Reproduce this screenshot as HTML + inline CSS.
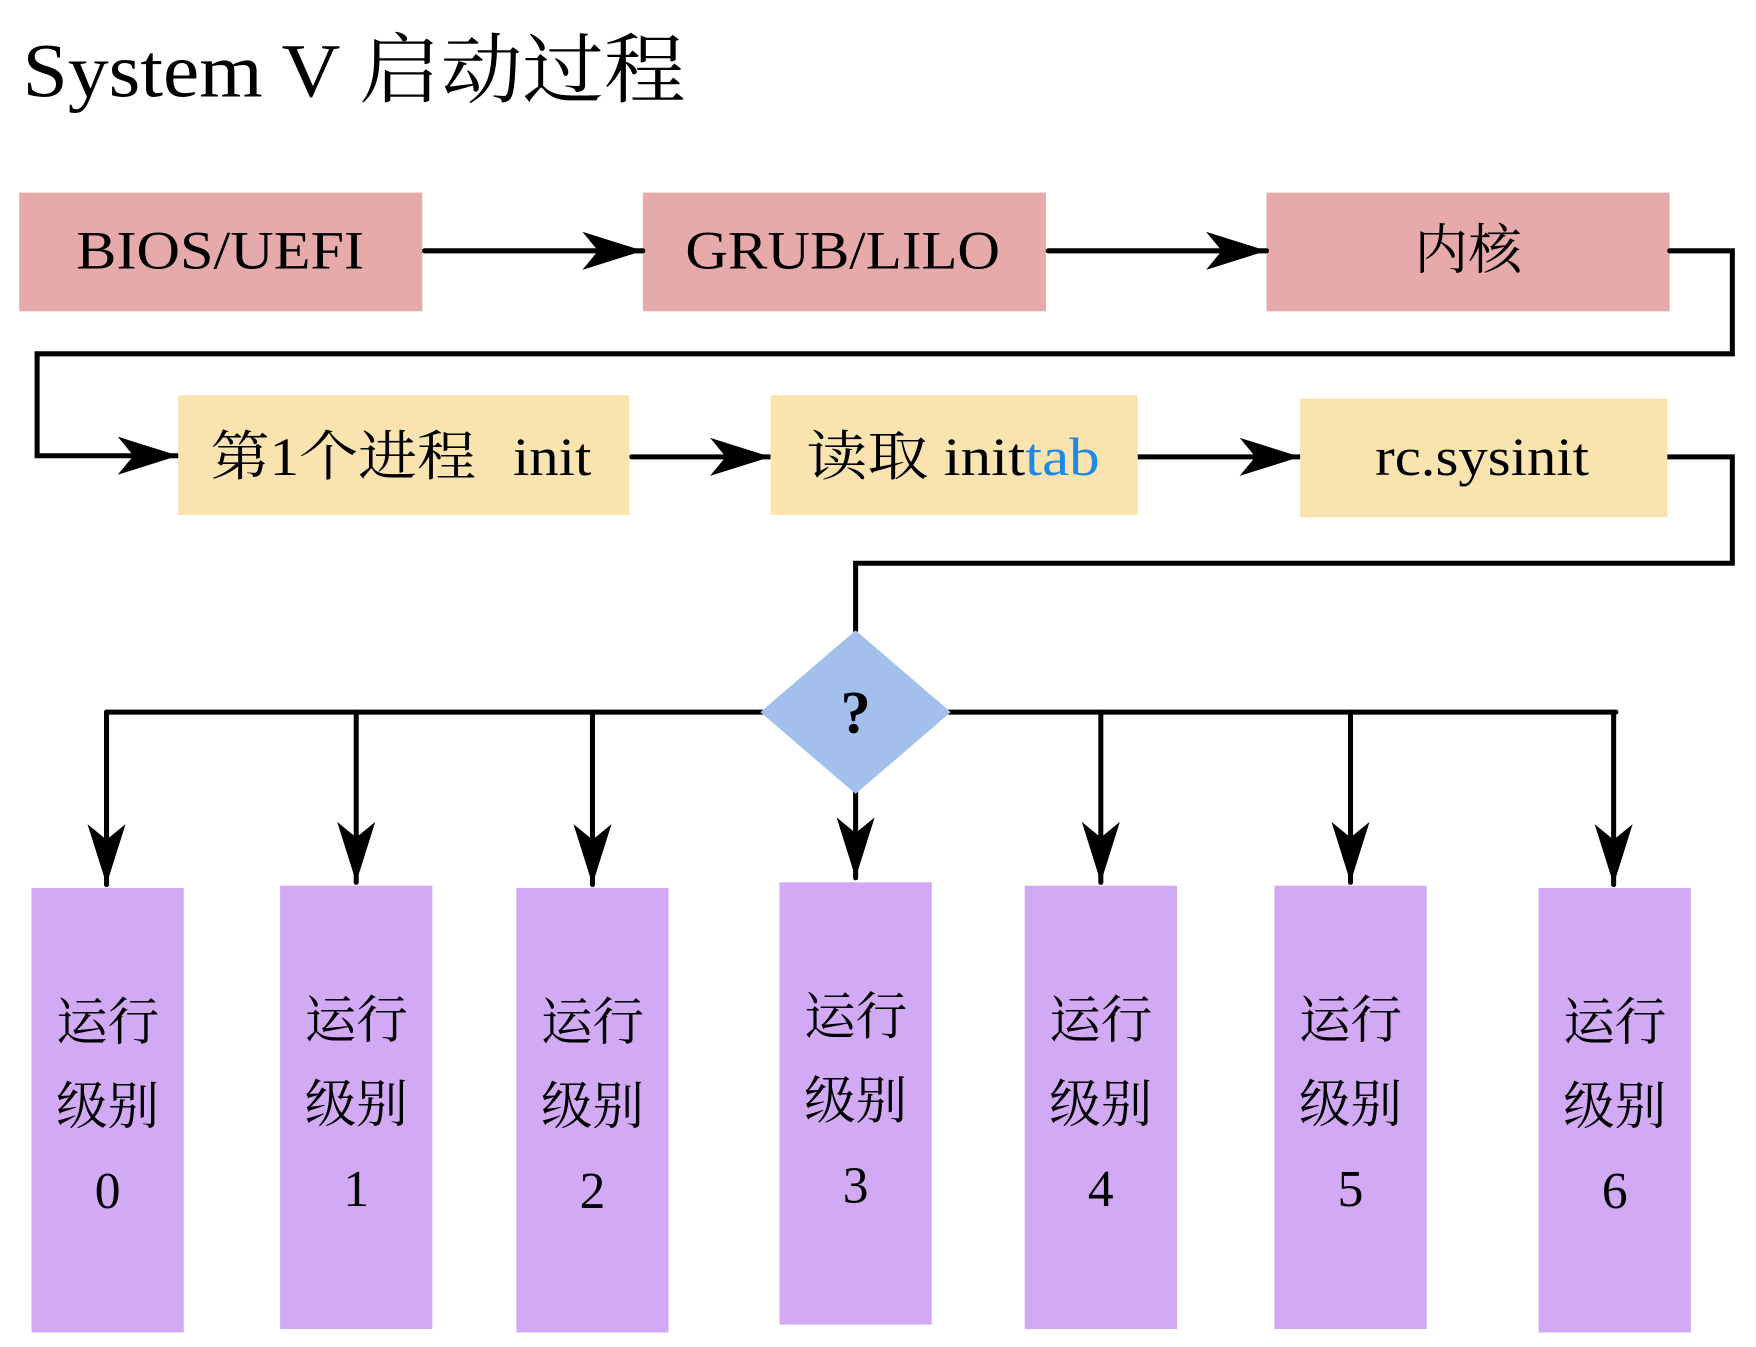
<!DOCTYPE html>
<html><head><meta charset="utf-8"><style>
html,body{margin:0;padding:0;background:#fff;}
svg{display:block;}
text{font-family:"Liberation Serif","Noto Serif CJK SC",serif;fill:#000;}
</style></head><body>
<svg width="1756" height="1347" viewBox="0 0 1568 1203" xmlns="http://www.w3.org/2000/svg">
<defs>
<marker id="a" viewBox="0 0 54 34" refX="54" refY="17" markerWidth="54" markerHeight="34" markerUnits="userSpaceOnUse" orient="auto">
<path d="M0,0 L54,17 L0,34 L14,17 Z" fill="#000"/>
</marker>
</defs>
<text x="20" y="86" font-size="68" textLength="592" lengthAdjust="spacingAndGlyphs">System V 启动过程</text>

<rect x="17" y="172" width="360" height="106" fill="#e5aaa9"/>
<rect x="574" y="172" width="360" height="106" fill="#e5aaa9"/>
<rect x="1131" y="172" width="360" height="106" fill="#e5aaa9"/>
<text x="68" y="240" font-size="48" textLength="257" lengthAdjust="spacingAndGlyphs">BIOS/UEFI</text>
<text x="612" y="240" font-size="48" textLength="281" lengthAdjust="spacingAndGlyphs">GRUB/LILO</text>
<text x="1311" y="240" font-size="48" text-anchor="middle">内核</text>

<g stroke="#000" stroke-width="4.5" fill="none" stroke-linecap="round">
<line x1="379" y1="224" x2="574" y2="224" marker-end="url(#a)"/>
<line x1="936" y1="224" x2="1131" y2="224" marker-end="url(#a)"/>
<polyline points="1491,224 1547,224 1547,316 33,316 33,407 159,407" marker-end="url(#a)"/>
<line x1="564" y1="408" x2="688" y2="408" marker-end="url(#a)"/>
<line x1="1016" y1="408" x2="1161" y2="408" marker-end="url(#a)"/>
<polyline points="1489,408 1547,408 1547,503 764,503 764,563"/>
<line x1="95" y1="636" x2="1443" y2="636"/>
<line x1="95" y1="636" x2="95" y2="790" marker-end="url(#a)"/>
<line x1="318" y1="636" x2="318" y2="788" marker-end="url(#a)"/>
<line x1="529" y1="636" x2="529" y2="790" marker-end="url(#a)"/>
<line x1="764" y1="705" x2="764" y2="784" marker-end="url(#a)"/>
<line x1="983" y1="636" x2="983" y2="788" marker-end="url(#a)"/>
<line x1="1206" y1="636" x2="1206" y2="788" marker-end="url(#a)"/>
<line x1="1441" y1="636" x2="1441" y2="790" marker-end="url(#a)"/>
</g>

<rect x="159" y="353" width="403" height="107" fill="#f9e4b0"/>
<rect x="688" y="353" width="328" height="107" fill="#f9e4b0"/>
<rect x="1161" y="356" width="328" height="106" fill="#f9e4b0"/>
<text x="188" y="424" font-size="48" textLength="237" lengthAdjust="spacingAndGlyphs">第1个进程</text>
<text x="458" y="424" font-size="48" textLength="70" lengthAdjust="spacingAndGlyphs">init</text>
<text x="720" y="424" font-size="48" textLength="262" lengthAdjust="spacingAndGlyphs">读取 init<tspan fill="#1e88e5">tab</tspan></text>
<text x="1228" y="424" font-size="48" textLength="191" lengthAdjust="spacingAndGlyphs">rc.sysinit</text>

<polygon points="764,563 849,636 764,709 679,636" fill="#a3bfec"/>
<text x="764" y="654" font-size="54" font-weight="bold" text-anchor="middle">?</text>

<g fill="#d1a9f4">
<rect x="28" y="793" width="136" height="397"/>
<rect x="250" y="791" width="136" height="396"/>
<rect x="461" y="793" width="136" height="397"/>
<rect x="696" y="788" width="136" height="395"/>
<rect x="915" y="791" width="136" height="396"/>
<rect x="1138" y="791" width="136" height="396"/>
<rect x="1374" y="793" width="136" height="397"/>
</g>
<g font-size="46" text-anchor="middle">
<text x="96" y="929">运行</text><text x="96" y="1004">级别</text><text x="96" y="1079">0</text>
<text x="318" y="927">运行</text><text x="318" y="1002">级别</text><text x="318" y="1077">1</text>
<text x="529" y="929">运行</text><text x="529" y="1004">级别</text><text x="529" y="1079">2</text>
<text x="764" y="924">运行</text><text x="764" y="999">级别</text><text x="764" y="1074">3</text>
<text x="983" y="927">运行</text><text x="983" y="1002">级别</text><text x="983" y="1077">4</text>
<text x="1206" y="927">运行</text><text x="1206" y="1002">级别</text><text x="1206" y="1077">5</text>
<text x="1442" y="929">运行</text><text x="1442" y="1004">级别</text><text x="1442" y="1079">6</text>
</g>
</svg>
</body></html>
